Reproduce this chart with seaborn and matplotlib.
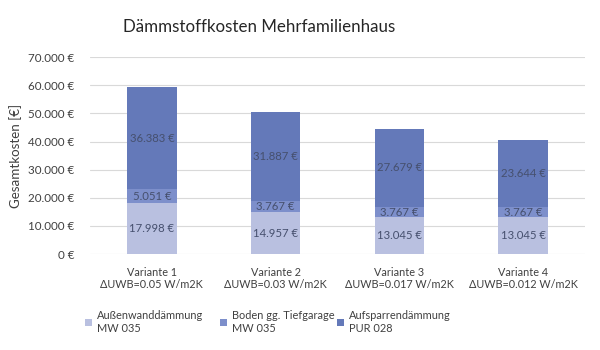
import matplotlib
matplotlib.use("Agg")
import matplotlib.pyplot as plt
from matplotlib.patches import Patch
from matplotlib.ticker import FuncFormatter
import seaborn as sns
import pandas as pd
import numpy as np

# Insulation cost components per variant (EUR)
variants = ["Variante 1\nΔUWB=0.05 W/m2K", "Variante 2\nΔUWB=0.03 W/m2K",
            "Variante 3\nΔUWB=0.017 W/m2K", "Variante 4\nΔUWB=0.012 W/m2K"]
aussenwand = [17998, 14957, 13045, 13045]
boden = [5051, 3767, 3767, 3767]
aufsparren = [36383, 31887, 27679, 23644]
series_names = ["Außenwanddämmung\nMW 035", "Boden gg. Tiefgarage\nMW 035",
                "Aufsparrendämmung\nPUR 028"]
y_ticks = [0, 10000, 20000, 30000, 40000, 50000, 60000, 70000]

colors = ["#B9C0E0", "#7D8FCB", "#6479B9"]
label_color = "#46506E"
text_color = "#404040"

sns.set_theme(style="white")
plt.rcParams["font.family"] = ["Lato", "DejaVu Sans"]

df = pd.DataFrame({"variant": variants, "a": aussenwand, "b": boden, "c": aufsparren})
df["ab"] = df["a"] + df["b"]
df["abc"] = df["ab"] + df["c"]

fig = plt.figure(figsize=(6, 3.5), dpi=100)
ax = fig.add_axes([0.15, 0.274, 0.825, 0.563])

# Stacked bars drawn as overlapping cumulative totals
for col, color in zip(["abc", "ab", "a"], colors[::-1]):
    sns.barplot(data=df, x="variant", y=col, color=color, width=0.4,
                saturation=1, ax=ax, zorder=2, linewidth=0, edgecolor="none")

def euro(v):
    return f"{v:,.0f} €".replace(",", ".")

for i in range(len(variants)):
    segs = [(0, aussenwand[i]), (aussenwand[i], boden[i]),
            (aussenwand[i] + boden[i], aufsparren[i])]
    for base, val in segs:
        ax.text(i, base + val / 2, euro(val), ha="center", va="center",
                fontsize=8.2, color=label_color, zorder=3)

ax.set_ylim(0, 70000)
ax.set_yticks(y_ticks)
ax.yaxis.set_major_formatter(FuncFormatter(lambda v, p: euro(v)))
ax.grid(axis="y", color="#D9D9D9", linewidth=0.8, zorder=0)
ax.set_axisbelow(True)
for s in ax.spines.values():
    s.set_visible(False)
ax.tick_params(axis="both", length=0, colors=text_color)
ax.tick_params(axis="y", pad=11, labelsize=8.4)
ax.tick_params(axis="x", pad=9, labelsize=7.8)
ax.set_xlabel("")
ax.set_ylabel("Gesamtkosten [€]", fontsize=9.6, color=text_color)
ax.yaxis.set_label_coords(-0.137, 0.5)
ax.set_xlim(-0.5, 3.5)

fig.text(0.432, 0.923, "Dämmstoffkosten Mehrfamilienhaus", fontsize=12.2,
         color="#262626", ha="center", va="center")

# One legend entry per column, placed at fixed positions below the axis
legend_x = [0.13, 0.355, 0.55]
for name, color, lx in zip(series_names, colors, legend_x):
    fig.legend([Patch(facecolor=color, edgecolor="none")], [name],
               loc="lower left", bbox_to_anchor=(lx, 0.028), borderaxespad=0.3,
               borderpad=0.3, frameon=False, fontsize=7.9, handlelength=0.7,
               handleheight=0.7, handletextpad=0.4, labelcolor=text_color)

fig.savefig("out.png", dpi=100)
